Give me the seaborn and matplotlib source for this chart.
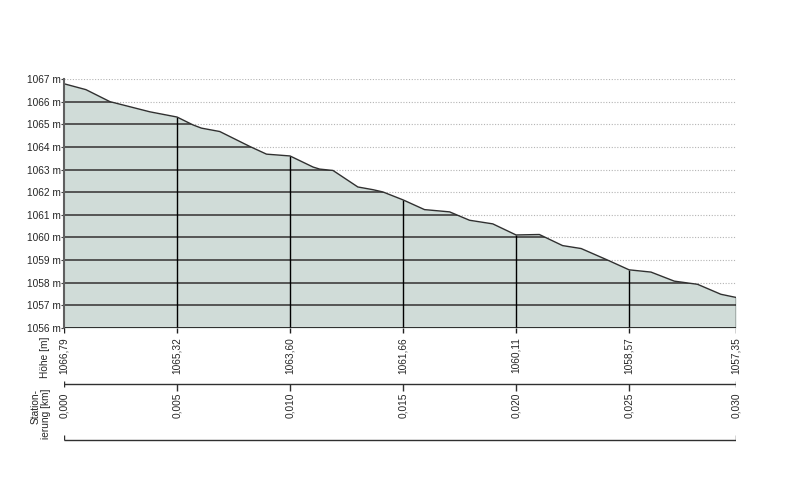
import numpy as np
import pandas as pd
import matplotlib.pyplot as plt
import seaborn as sns

# profile: station [km] and height [m]
station_km = [0.0, 0.00097, 0.00203, 0.0038, 0.005, 0.00571, 0.00608, 0.00689,
              0.00822, 0.00896, 0.010, 0.01102, 0.01131, 0.0119, 0.013, 0.01367,
              0.01411, 0.015, 0.01595, 0.01706, 0.01794, 0.01897, 0.020, 0.02103,
              0.02206, 0.02288, 0.02405, 0.025, 0.02597, 0.027, 0.02803, 0.02906,
              0.02973]
hoehe_m = [1066.79, 1066.53, 1066.00, 1065.55, 1065.32, 1064.97, 1064.83, 1064.68,
           1064.02, 1063.68, 1063.60, 1063.11, 1063.02, 1062.96, 1062.23, 1062.11,
           1062.01, 1061.66, 1061.23, 1061.13, 1060.76, 1060.60, 1060.11, 1060.13,
           1059.64, 1059.51, 1059.00, 1058.57, 1058.47, 1058.07, 1057.93, 1057.49,
           1057.35]

# labelled stations below the chart
tick_km = [0.0, 0.005, 0.010, 0.015, 0.020, 0.025, 0.02973]
tick_km_labels = ['0,000', '0,005', '0,010', '0,015', '0,020', '0,025', '0,030']
tick_hoehe_labels = ['1066,79', '1065,32', '1063,60', '1061,66', '1060,11', '1058,57', '1057,35']
y_levels = list(range(1056, 1068))

df = pd.DataFrame({'station': station_km, 'hoehe': hoehe_m})

sns.set_style('white')
plt.rcParams['font.family'] = ['Liberation Sans', 'DejaVu Sans']
fs = 7.3

W, H = 794, 478
fig = plt.figure(figsize=(W / 100, H / 100), dpi=100)

x0, x1 = 64, 736
y_top, y_base = 79, 328
ax = fig.add_axes([x0 / W, 1 - y_base / H, (x1 - x0) / W, (y_base - y_top) / H])
x_end = station_km[-1]
ax.set_xlim(0, x_end)
ax.set_ylim(1056, 1067)

# dotted guide lines over the whole width
for lv in y_levels[1:]:
    ax.axhline(lv, color='#b4b4b4', lw=0.8, ls=(0, (1, 1.5)), zorder=1)

fill = ax.fill_between(df['station'], df['hoehe'], 1056, color='#d0dcd8', lw=0, zorder=2)
clip_path = fill.get_paths()[0]

# solid lines only inside the filled profile
for lv in y_levels[1:]:
    ln = ax.axhline(lv, color='#4a4a4a', lw=1.3, zorder=3)
    ln.set_clip_path(clip_path, ax.transData)

sns.lineplot(data=df, x='station', y='hoehe', ax=ax, color='#303030', lw=1.0, zorder=5)

tick_h = np.interp(tick_km, station_km, hoehe_m)
ax.vlines(tick_km[1:], 1056, tick_h[1:], color='black', lw=1.0, zorder=4)
ax.axhline(1056, color='#202020', lw=1.3, zorder=4)

for s in ['top', 'right', 'bottom']:
    ax.spines[s].set_visible(False)
ax.spines['left'].set_color('#606060')
ax.spines['left'].set_linewidth(1.5)
ax.spines['left'].set_zorder(6)
ax.set_xticks([])
ax.set_yticks(y_levels)
ax.set_yticklabels([f'{v} m' for v in y_levels], fontsize=fs)
ax.tick_params(axis='y', length=2, width=0.8, pad=0.5, color='#404040', left=True)
ax.set_xlabel('')
ax.set_ylabel('')

# lower band with height and station values, y in pixels
y_bot = 448
ax2 = fig.add_axes([x0 / W, 1 - y_bot / H, (x1 - x0) / W, (y_bot - y_base) / H])
ax2.set_xlim(0, x_end)
ax2.set_ylim(y_bot, y_base)
ax2.axis('off')

ax2.vlines(tick_km, y_base, y_base + 5, color='#202020', lw=1.0)
for xk, lab in zip(tick_km, tick_hoehe_labels):
    ax2.text(xk, 337, lab, rotation=90, ha='center', va='top', fontsize=fs)

ax2.hlines(384, 0, x_end, color='#303030', lw=1.0)
ax2.vlines([0, x_end], 381, 387, color='#303030', lw=1.0)
ax2.vlines(tick_km[1:-1], 384, 391, color='#303030', lw=1.0)
for xk, lab in zip(tick_km, tick_km_labels):
    ax2.text(xk, 393, lab, rotation=90, ha='center', va='top', fontsize=fs)

ax2.hlines(440, 0, x_end, color='#303030', lw=1.0)
ax2.vlines([0, x_end], 435, 440, color='#303030', lw=1.0)

fig.text(45 / W, 1 - 337 / H, 'Höhe [m]', rotation=90, ha='center', va='top', fontsize=fs)
fig.text(41 / W, 1 - 389 / H, 'Station-\nierung [km]', rotation=90, ha='center', va='top',
         multialignment='right', fontsize=fs, linespacing=1.0)

fig.savefig('out.png', dpi=100)
